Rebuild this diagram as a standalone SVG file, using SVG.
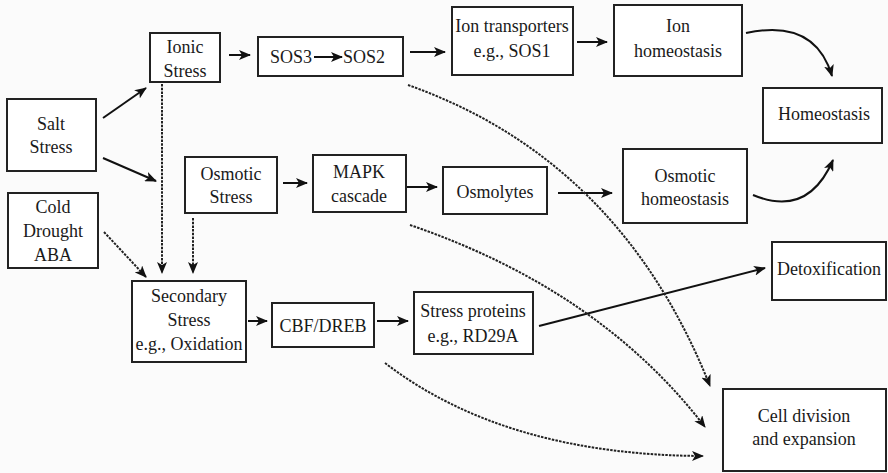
<svg xmlns="http://www.w3.org/2000/svg" width="888" height="473" viewBox="0 0 888 473">
<defs>
<marker id="ah" markerUnits="userSpaceOnUse" markerWidth="12" markerHeight="10" refX="11" refY="5" orient="auto"><path d="M0,0 L12,5 L0,10 L3,5 Z" fill="#111"/></marker>
<style>
.box{fill:#fff;stroke:#222;stroke-width:2}
text{font-family:'Liberation Serif',Tinos,'Times New Roman',Times,serif;font-size:18px;fill:#1a1a1a;text-anchor:middle}
.c{fill:none;stroke:#111;stroke-width:2;marker-end:url(#ah)}
.d{fill:none;stroke:#222;stroke-width:2;stroke-dasharray:2.5 1.2;marker-end:url(#ah)}
</style>
</defs>
<rect width="888" height="473" fill="#fbfbfb"/>
<g id="ionic"><rect class="box" x="150" y="33" width="70" height="49"/><text x="185" y="53">Ionic</text><text x="185" y="77">Stress</text></g>
<g id="sos"><rect class="box" x="258" y="37" width="145" height="39"/><text x="291" y="63">SOS3</text><text x="364" y="63">SOS2</text><line x1="314" y1="57" x2="342" y2="57" class="c"/></g>
<g id="iontrans"><rect class="box" x="452" y="7" width="121" height="68"/><text x="512" y="32">Ion transporters</text><text x="512" y="57">e.g., SOS1</text></g>
<g id="ionhomeo"><rect class="box" x="614" y="5" width="128" height="71"/><text x="678" y="32">Ion</text><text x="678" y="57">homeostasis</text></g>
<g id="homeo"><rect class="box" x="763" y="88" width="119" height="55"/><text x="824" y="120">Homeostasis</text></g>
<g id="salt"><rect class="box" x="7" y="99" width="89" height="72"/><text x="51" y="130">Salt</text><text x="51" y="153">Stress</text></g>
<g id="cold"><rect class="box" x="8" y="193" width="90" height="75"/><text x="53" y="213">Cold</text><text x="53" y="237">Drought</text><text x="53" y="261">ABA</text></g>
<g id="osmotic"><rect class="box" x="185" y="157" width="92" height="56"/><text x="231" y="180">Osmotic</text><text x="231" y="203">Stress</text></g>
<g id="mapk"><rect class="box" x="313" y="155" width="93" height="57"/><text x="359" y="178">MAPK</text><text x="359" y="202">cascade</text></g>
<g id="osmolytes"><rect class="box" x="443" y="167" width="104" height="47"/><text x="495" y="198">Osmolytes</text></g>
<g id="osmhomeo"><rect class="box" x="623" y="149" width="124" height="74"/><text x="685" y="182">Osmotic</text><text x="685" y="205">homeostasis</text></g>
<g id="detox"><rect class="box" x="772" y="242" width="114" height="58"/><text x="829" y="275">Detoxification</text></g>
<g id="secondary"><rect class="box" x="132" y="281" width="114" height="81"/><text x="189" y="302">Secondary</text><text x="189" y="326">Stress</text><text x="189" y="350">e.g., Oxidation</text></g>
<g id="cbf"><rect class="box" x="272" y="303" width="102" height="44"/><text x="323" y="332">CBF/DREB</text></g>
<g id="stressprot"><rect class="box" x="414" y="292" width="119" height="62"/><text x="473" y="317">Stress proteins</text><text x="473" y="342">e.g., RD29A</text></g>
<g id="celldiv"><rect class="box" x="723" y="389" width="163" height="82"/><text x="804" y="422">Cell division</text><text x="804" y="445">and expansion</text></g>
<g id="connectors">
<line class="c" x1="229" y1="55" x2="250" y2="55"/>
<line class="c" x1="410" y1="52" x2="445" y2="52"/>
<line class="c" x1="577" y1="42" x2="607" y2="42"/>
<path class="c" d="M746,33 Q815,18 832,76"/>
<line class="c" x1="103" y1="118" x2="146" y2="88"/>
<line class="c" x1="103" y1="158" x2="156" y2="181"/>
<line class="d" x1="104" y1="232" x2="146" y2="277"/>
<line class="d" x1="162" y1="84" x2="162" y2="273"/>
<line class="d" x1="193" y1="218" x2="193" y2="273"/>
<line class="c" x1="283" y1="183" x2="307" y2="183"/>
<line class="c" x1="407" y1="187" x2="437" y2="187"/>
<line class="c" x1="558" y1="193" x2="612" y2="193"/>
<path class="c" d="M753,195 Q808,218 833,160"/>
<line class="c" x1="248" y1="321" x2="267" y2="321"/>
<line class="c" x1="377" y1="321" x2="408" y2="321"/>
<line class="c" x1="539" y1="326" x2="765" y2="268"/>
<path class="d" d="M408,85 Q620,160 710,386"/>
<path class="d" d="M410,225 Q600,290 705,427"/>
<path class="d" d="M385,363 Q505,455 703,456"/>
</g>
</svg>
